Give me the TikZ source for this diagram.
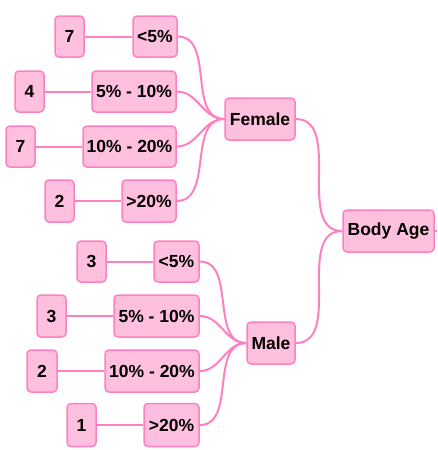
\documentclass[tikz,border=0pt]{standalone}
\usepackage{fontspec}
\setmainfont{Liberation Sans}
\definecolor{boxfill}{HTML}{FFC0E0}
\definecolor{boxline}{HTML}{FF80C0}
\begin{document}
\begin{tikzpicture}[x=1pt,y=1pt,
  box/.style={draw=boxline, fill=boxfill, line width=1.5pt, rounded corners=4pt,
    minimum height=41pt, inner sep=0pt, font=\fontsize{17.5}{19}\selectfont\bfseries},
  link/.style={draw=boxline, line width=2pt},
  curve/.style={link, out=0, in=180}]
\useasboundingbox (0,0) rectangle (437,-450);
% main nodes
\node[box, minimum width=91pt, minimum height=42pt] (body) at (388.5,-231) {Body Age};
\node[box, minimum width=70pt, minimum height=42pt] (female) at (260,-119) {Female};
\node[box, minimum width=48pt, minimum height=42pt] (male) at (271,-343) {Male};
% female categories
\node[box, minimum width=44pt] (a1) at (155,-36.5) {<5\%};
\node[box, minimum width=84pt] (a2) at (134,-91.5) {5\% - 10\%};
\node[box, minimum width=93pt] (a3) at (129.5,-146.5) {10\% - 20\%};
\node[box, minimum width=54pt, minimum height=42pt] (a4) at (149,-201) {>20\%};
\node[box, minimum width=29pt] (v1) at (69.5,-36.5) {7};
\node[box, minimum width=29pt] (v2) at (29.5,-91.5) {4};
\node[box, minimum width=29pt] (v3) at (20.5,-146.5) {7};
\node[box, minimum width=29pt, minimum height=42pt] (v4) at (59.5,-201) {2};
% male categories
\node[box, minimum width=45pt] (b1) at (176.5,-261.5) {<5\%};
\node[box, minimum width=85pt, minimum height=42pt] (b2) at (156.5,-316) {5\% - 10\%};
\node[box, minimum width=94pt, minimum height=42pt] (b3) at (152,-371) {10\% - 20\%};
\node[box, minimum width=55pt, minimum height=43pt] (b4) at (171.5,-425) {>20\%};
\node[box, minimum width=29pt] (u1) at (91.5,-261.5) {3};
\node[box, minimum width=29pt, minimum height=42pt] (u2) at (51.5,-316) {3};
\node[box, minimum width=30pt, minimum height=42pt] (u3) at (42,-371) {2};
\node[box, minimum width=29pt, minimum height=43pt] (u4) at (81.5,-425) {1};
\coordinate (stub) at (437,-231);
% connectors
\draw[link] (body.east) -- (stub);
\draw[curve] (female.east) to (body.west);
\draw[curve] (male.east) to (body.west);
\foreach \c in {a1,a2,a3,a4} \draw[curve] (\c.east) to (female.west);
\foreach \c in {b1,b2,b3,b4} \draw[curve] (\c.east) to (male.west);
\draw[link] (v1) -- (a1);
\draw[link] (v2) -- (a2);
\draw[link] (v3) -- (a3);
\draw[link] (v4) -- (a4);
\draw[link] (u1) -- (b1);
\draw[link] (u2) -- (b2);
\draw[link] (u3) -- (b3);
\draw[link] (u4) -- (b4);
\end{tikzpicture}
\end{document}
